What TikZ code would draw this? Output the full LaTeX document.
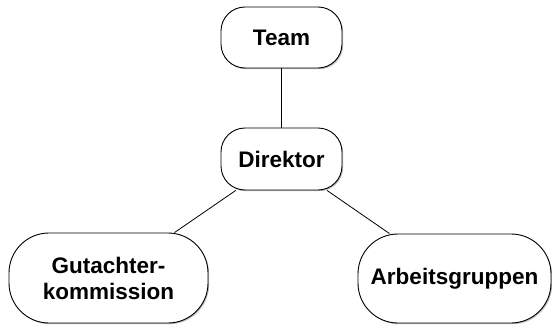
\documentclass[tikz,border=0pt]{standalone}
\usepackage{fontspec}
\setmainfont{Liberation Sans}
\usetikzlibrary{shadows}
\begin{document}
\begin{tikzpicture}[x=1pt,y=1pt,
  box/.style={draw=black, line width=0.9pt, fill=white, rectangle, inner sep=0pt,
    align=center, font=\fontsize{22.5}{26}\selectfont\bfseries,
    drop shadow={shadow xshift=1.2pt, shadow yshift=-1.2pt, opacity=0.45, fill=black!60}},
  small/.style={box, rounded corners=24pt},
  big/.style={box, rounded corners=40pt},
  link/.style={draw=black, line width=0.8pt}]
\useasboundingbox (0,0) rectangle (552,325);
\node[small, minimum width=121pt, minimum height=61pt] (team) at (281.5,287.5) {Team};
\node[small, minimum width=121pt, minimum height=62pt] (dir) at (281.5,166) {Direktor};
\node[big, minimum width=199pt, minimum height=90pt] (gut) at (108.5,47) {Gutachter-\\kommission};
\node[big, minimum width=193pt, minimum height=89pt] (arb) at (454.5,46.5) {Arbeitsgruppen};
\draw[link] (team) -- (dir);
\draw[link] (dir) -- (gut);
\draw[link] (dir) -- (arb);
\end{tikzpicture}
\end{document}
